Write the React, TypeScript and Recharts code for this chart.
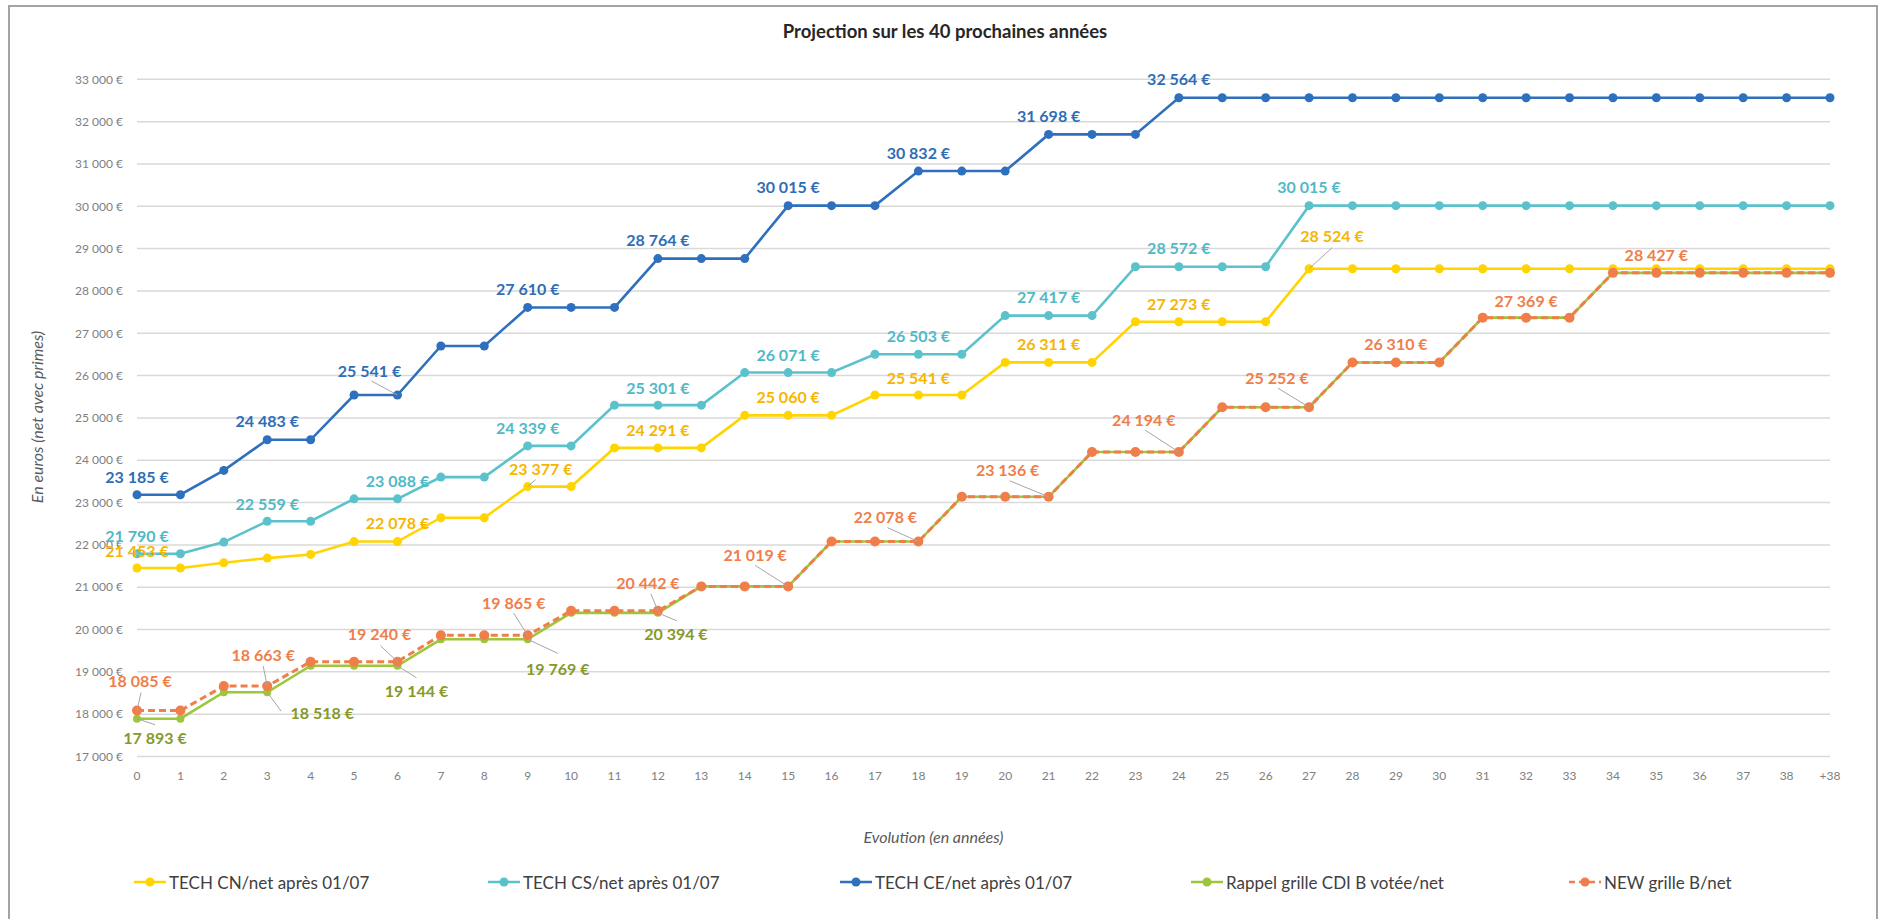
import { LineChart, Line, XAxis, YAxis, CartesianGrid, LabelList } from "recharts";

const years = [
  "0", "1", "2", "3", "4", "5", "6", "7", "8", "9",
  "10", "11", "12", "13", "14", "15", "16", "17", "18", "19",
  "20", "21", "22", "23", "24", "25", "26", "27", "28", "29",
  "30", "31", "32", "33", "34", "35", "36", "37", "38", "+38",
];

const techCN = [
  21453, 21453, 21578, 21687, 21774, 22078, 22078, 22642, 22642, 23377,
  23377, 24291, 24291, 24291, 25060, 25060, 25060, 25541, 25541, 25541,
  26311, 26311, 26311, 27273, 27273, 27273, 27273, 28524, 28524, 28524,
  28524, 28524, 28524, 28524, 28524, 28524, 28524, 28524, 28524, 28524,
];

const techCS = [
  21790, 21790, 22065, 22559, 22559, 23088, 23088, 23601, 23601, 24339,
  24339, 25301, 25301, 25301, 26071, 26071, 26071, 26503, 26503, 26503,
  27417, 27417, 27417, 28572, 28572, 28572, 28572, 30015, 30015, 30015,
  30015, 30015, 30015, 30015, 30015, 30015, 30015, 30015, 30015, 30015,
];

const techCE = [
  23185, 23185, 23760, 24483, 24483, 25541, 25541, 26700, 26700, 27610,
  27610, 27610, 28764, 28764, 28764, 30015, 30015, 30015, 30832, 30832,
  30832, 31698, 31698, 31698, 32564, 32564, 32564, 32564, 32564, 32564,
  32564, 32564, 32564, 32564, 32564, 32564, 32564, 32564, 32564, 32564,
];

const rappelB = [
  17893, 17893, 18518, 18518, 19144, 19144, 19144, 19769, 19769, 19769,
  20394, 20394, 20394, 21019, 21019, 21019, 22078, 22078, 22078, 23136,
  23136, 23136, 24194, 24194, 24194, 25252, 25252, 25252, 26310, 26310,
  26310, 27369, 27369, 27369, 28427, 28427, 28427, 28427, 28427, 28427,
];

const newB = [
  18085, 18085, 18663, 18663, 19240, 19240, 19240, 19865, 19865, 19865,
  20442, 20442, 20442, 21019, 21019, 21019, 22078, 22078, 22078, 23136,
  23136, 23136, 24194, 24194, 24194, 25252, 25252, 25252, 26310, 26310,
  26310, 27369, 27369, 27369, 28427, 28427, 28427, 28427, 28427, 28427,
];

const yTicks = [
  17000, 18000, 19000, 20000, 21000, 22000, 23000, 24000, 25000,
  26000, 27000, 28000, 29000, 30000, 31000, 32000, 33000,
];

const chartTitle = "Projection sur les 40 prochaines années";
const xTitle = "Evolution (en années)";
const yTitle = "En euros (net avec primes)";

// where each data label sits relative to its point (Excel-style, some with a leader line)
type Spot = { i: number; dx: number; dy: number; lead?: [number, number] };

const cnSpots: Spot[] = [
  { i: 0, dx: 0, dy: -18 },
  { i: 6, dx: 0, dy: -19 },
  { i: 9, dx: 13, dy: -18, lead: [8, -7] },
  { i: 12, dx: 0, dy: -18 },
  { i: 15, dx: 0, dy: -19 },
  { i: 18, dx: 0, dy: -18 },
  { i: 21, dx: 0, dy: -19 },
  { i: 24, dx: 0, dy: -18 },
  { i: 27, dx: 23, dy: -33, lead: [23, -21] },
];

const csSpots: Spot[] = [
  { i: 0, dx: 0, dy: -18 },
  { i: 3, dx: 0, dy: -18 },
  { i: 6, dx: 0, dy: -18 },
  { i: 9, dx: 0, dy: -18 },
  { i: 12, dx: 0, dy: -18 },
  { i: 15, dx: 0, dy: -18 },
  { i: 18, dx: 0, dy: -19 },
  { i: 21, dx: 0, dy: -19 },
  { i: 24, dx: 0, dy: -19 },
  { i: 27, dx: 0, dy: -19 },
];

const ceSpots: Spot[] = [
  { i: 0, dx: 0, dy: -18 },
  { i: 3, dx: 0, dy: -19 },
  { i: 6, dx: -28, dy: -25, lead: [-26, -14] },
  { i: 9, dx: 0, dy: -19 },
  { i: 12, dx: 0, dy: -19 },
  { i: 15, dx: 0, dy: -19 },
  { i: 18, dx: 0, dy: -19 },
  { i: 21, dx: 0, dy: -19 },
  { i: 24, dx: 0, dy: -19 },
];

const rappelSpots: Spot[] = [
  { i: 0, dx: 18, dy: 19, lead: [18, 6] },
  { i: 3, dx: 55, dy: 20, lead: [14, 19] },
  { i: 6, dx: 19, dy: 25, lead: [19, 12] },
  { i: 9, dx: 30, dy: 29, lead: [30, 14] },
  { i: 12, dx: 18, dy: 21, lead: [19, 8] },
];

const newSpots: Spot[] = [
  { i: 0, dx: 3, dy: -30, lead: [4, -18] },
  { i: 3, dx: -4, dy: -32, lead: [-4, -20] },
  { i: 6, dx: -18, dy: -28, lead: [-17, -16] },
  { i: 9, dx: -14, dy: -33, lead: [-14, -22] },
  { i: 12, dx: -10, dy: -28, lead: [-7, -17] },
  { i: 15, dx: -33, dy: -32, lead: [-33, -21] },
  { i: 18, dx: -33, dy: -25, lead: [-31, -14] },
  { i: 21, dx: -41, dy: -27, lead: [-39, -16] },
  { i: 24, dx: -35, dy: -33, lead: [-34, -22] },
  { i: 27, dx: -32, dy: -30, lead: [-31, -19] },
  { i: 29, dx: 0, dy: -19 },
  { i: 32, dx: 0, dy: -17 },
  { i: 35, dx: 0, dy: -18 },
];

const series = [
  { key: "cn", name: "TECH CN/net après 01/07", color: "#FFD400", text: "#F7B500", r: 4.5, spots: cnSpots },
  { key: "cs", name: "TECH CS/net après 01/07", color: "#5BC2CC", text: "#4FB9C6", r: 4.5, spots: csSpots },
  { key: "ce", name: "TECH CE/net après 01/07", color: "#2E6FBE", text: "#2F6DB5", r: 4.5, spots: ceSpots },
  { key: "rappel", name: "Rappel grille CDI B votée/net", color: "#9DC63B", text: "#86992A", r: 4, spots: rappelSpots },
  { key: "nouveau", name: "NEW grille B/net", color: "#EF7E4A", text: "#EF7E4A", r: 5, dash: "7 4", spots: newSpots },
];

const data = years.map((year, i) => ({
  year,
  cn: techCN[i],
  cs: techCS[i],
  ce: techCE[i],
  rappel: rappelB[i],
  nouveau: newB[i],
}));

const FONT = "Lato, 'Open Sans', sans-serif";
const legendLeft = [134, 488, 840, 1191, 1569];

const euro = (v: number) =>
  String(Math.round(v)).replace(/\B(?=(\d{3})+(?!\d))/g, " ") + " €";

const makeLabel = (spots: Spot[], color: string) => (props: any) => {
  const { index, value } = props;
  const x = props.x ?? props.viewBox?.x;
  const y = props.y ?? props.viewBox?.y;
  const s = spots.find((p) => p.i === index);
  if (!s || x == null || y == null) return null;
  return (
    <g key={`lbl-${index}`}>
      {s.lead && (
        <line
          x1={x + s.lead[0]}
          y1={y + s.lead[1]}
          x2={x}
          y2={y}
          stroke="#A6A6A6"
          strokeWidth={1}
        />
      )}
      <text
        x={x + s.dx}
        y={y + s.dy}
        textAnchor="middle"
        dominantBaseline="central"
        fill={color}
        fontSize={16}
        fontWeight={700}
        fontFamily={FONT}
      >
        {euro(value)}
      </text>
    </g>
  );
};

const XTitle = (props: any) => {
  const vb = props.viewBox;
  return (
    <text
      x={vb.x + vb.width / 2 - 50}
      y={843}
      textAnchor="middle"
      fontSize={16}
      fontStyle="italic"
      fill="#595959"
      fontFamily={FONT}
    >
      {xTitle}
    </text>
  );
};

const YTitle = () => (
  <text
    x={36}
    y={417}
    transform="rotate(-90 36 417)"
    textAnchor="middle"
    dominantBaseline="central"
    fontSize={16}
    fontStyle="italic"
    fill="#595959"
    fontFamily={FONT}
  >
    {yTitle}
  </text>
);

export default function App() {
  return (
    <div
      style={{
        position: "fixed",
        left: 0,
        top: 0,
        width: 1879,
        height: 919,
        overflow: "hidden",
        background: "#fff",
        fontFamily: FONT,
      }}
    >
      <div
        style={{
          position: "absolute",
          left: 8,
          top: 5,
          width: 1870,
          height: 930,
          border: "2px solid #A3A3A3",
          boxSizing: "border-box",
        }}
      />
      <div
        style={{
          position: "absolute",
          left: 645,
          top: 19,
          width: 600,
          textAlign: "center",
          fontSize: 18.5,
          fontWeight: 700,
          color: "#262626",
          lineHeight: "24px",
        }}
      >
        {chartTitle}
      </div>
      <div style={{ position: "absolute", left: 0, top: 0 }}>
        <LineChart
          width={1879}
          height={919}
          data={data}
          margin={{ top: 79.3, right: 49, bottom: 132.5, left: 0 }}
        >
          <CartesianGrid vertical={false} stroke="#D9D9D9" strokeWidth={1.5} />
          <XAxis
            dataKey="year"
            interval={0}
            axisLine={false}
            tickLine={false}
            tickMargin={9}
            height={30}
            tick={{ fontSize: 12, fill: "#808080", fontFamily: FONT }}
            label={<XTitle />}
          />
          <YAxis
            width={137}
            domain={[17000, 33000]}
            ticks={yTicks}
            axisLine={false}
            tickLine={false}
            tickMargin={8}
            tickFormatter={euro}
            tick={{ fontSize: 12, fill: "#808080", fontFamily: FONT }}
            label={<YTitle />}
          />
          {series.map((s) => (
            <Line
              key={s.key}
              type="linear"
              dataKey={s.key}
              name={s.name}
              stroke={s.color}
              strokeWidth={s.dash ? 3 : 2.6}
              strokeDasharray={s.dash}
              dot={{ r: s.r, fill: s.color, stroke: s.color, strokeWidth: 0 }}
              activeDot={false}
              isAnimationActive={false}
            >
              <LabelList dataKey={s.key} content={makeLabel(s.spots, s.text)} />
            </Line>
          ))}
        </LineChart>
      </div>
      {series.map((s, k) => (
        <div
          key={s.key}
          style={{
            position: "absolute",
            left: legendLeft[k],
            top: 870,
            display: "flex",
            alignItems: "center",
            whiteSpace: "nowrap",
            height: 24,
          }}
        >
          <svg width={32} height={12}>
            <line
              x1={0}
              y1={6}
              x2={32}
              y2={6}
              stroke={s.color}
              strokeWidth={2.5}
              strokeDasharray={s.dash ? "6 4" : undefined}
            />
            <circle cx={16} cy={6} r={4.5} fill={s.color} />
          </svg>
          <span style={{ marginLeft: 3, fontSize: 17, color: "#404040" }}>{s.name}</span>
        </div>
      ))}
    </div>
  );
}
